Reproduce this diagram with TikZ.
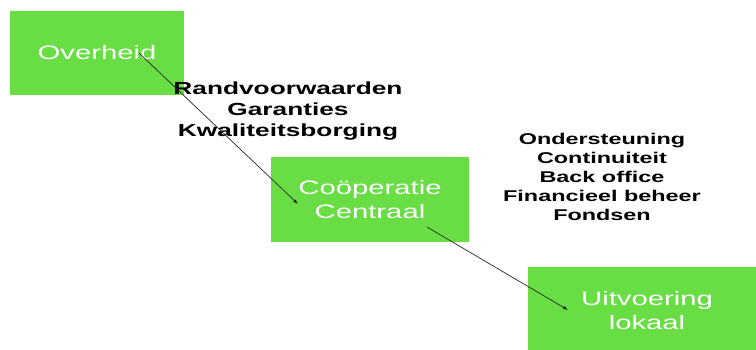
\documentclass[tikz,border=0pt]{standalone}
\usepackage{fontspec}
\newfontfamily\wide[FakeStretch=1.5]{Liberation Sans}
\usetikzlibrary{arrows.meta}
\definecolor{boxgreen}{RGB}{104,221,68}
\tikzset{
  greenbox/.style={fill=boxgreen, draw=none, text=white, align=center,
    font=\wide\fontsize{19.5}{24}\selectfont, inner sep=0pt},
  label1/.style={align=center, font=\wide\bfseries\fontsize{17.5}{21}\selectfont, inner sep=0pt},
  label2/.style={align=center, font=\wide\bfseries\fontsize{15.6}{19}\selectfont, inner sep=0pt},
  conn/.style={line width=0.7pt, draw=black!85, -{Latex[length=5pt,width=3.5pt]}}
}
\begin{document}
\begin{tikzpicture}[x=1pt,y=-1pt]
\useasboundingbox (0,0) rectangle (756,349);
\node[greenbox, minimum width=174pt, minimum height=84pt] (overheid) at (97,53) {Overheid};
\node[greenbox, minimum width=198pt, minimum height=85pt] (coop) at (370,199.5) {Coöperatie\\Centraal};
\node[greenbox, minimum width=238pt, minimum height=87pt] (uitv) at (647,310.5) {Uitvoering\\lokaal};
\node[label1] (rand) at (288,111.5) {Randvoorwaarden\\Garanties\\Kwaliteitsborging};
\node[label2] (onder) at (602,177) {Ondersteuning\\Continuiteit\\Back office\\Financieel beheer\\Fondsen};
\coordinate (a1) at (139,53);
\coordinate (a2) at (298,204);
\coordinate (b1) at (427,227);
\coordinate (b2) at (568,310);
\draw[conn] (a1) -- (a2);
\draw[conn] (b1) -- (b2);
\end{tikzpicture}
\end{document}
